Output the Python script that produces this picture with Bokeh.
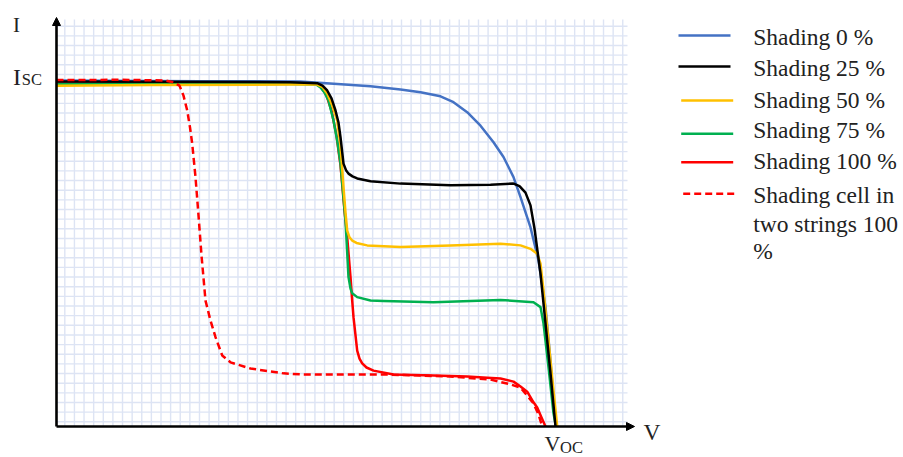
import numpy as np
from bokeh.plotting import figure
from bokeh.models import Range1d, Arrow, NormalHead, Label
from bokeh.core.properties import value
from bokeh.embed import file_html
from bokeh.resources import INLINE

# ---------------- data (V in volts, V_OC = 50; I in amps, I_SC = 10) ----------------
labels = ["Shading 0 %", "Shading 25 %", "Shading 50 %", "Shading 75 %",
          "Shading 100 %", "Shading cell in two strings 100 %"]
colors = ["#4472C4", "#000000", "#FFC000", "#00B050", "#FF0000", "#FF0000"]

v_0 = [0, 14.4, 24.4, 31.4, 34.4, 36.4, 38.4, 39.7, 41.07, 42.4, 43.7, 44.7, 45.7,
       46.4, 47.4, 48.2, 48.9, 49.4, 49.7, 50.0]
i_0 = [10.03, 10.01, 10.0, 9.86, 9.77, 9.69, 9.57, 9.40, 9.11, 8.72, 8.24, 7.81, 7.23,
       6.65, 5.77, 4.81, 3.46, 1.91, 0.75, 0.0]

v_25 = [0, 23.4, 26.07, 26.6, 27.07, 27.5, 27.9, 28.2, 28.4, 28.7, 28.95, 29.2, 29.6,
        30.07, 31.4, 34.4, 39.4, 43.4, 45.7, 46.3, 46.9, 47.4, 47.8, 48.4, 48.9, 49.4, 49.9]
i_25 = [10.0, 9.98, 9.95, 9.88, 9.74, 9.51, 9.16, 8.81, 8.39, 7.62, 7.43, 7.33, 7.25,
        7.19, 7.11, 7.04, 6.99, 7.01, 7.04, 6.97, 6.78, 6.41, 5.74, 4.43, 2.99, 1.54, 0.0]

v_50 = [0, 9.4, 23.4, 26.07, 26.6, 27.07, 27.6, 28.07, 28.4, 28.7, 28.9, 29.07, 29.3,
        29.57, 30.0, 31.07, 34.4, 39.4, 44.4, 46.4, 47.4, 48.07, 48.4, 48.7, 49.2, 49.7, 50.07]
i_50 = [9.88, 9.90, 9.91, 9.91, 9.84, 9.65, 9.30, 8.87, 8.14, 6.94, 6.20, 5.68, 5.48,
        5.39, 5.32, 5.25, 5.20, 5.25, 5.30, 5.25, 5.15, 5.01, 4.72, 3.94, 2.49, 1.04, 0.0]

v_75 = [0, 23.4, 26.0, 26.4, 26.8, 27.2, 27.7, 28.1, 28.4, 28.9, 29.2, 29.4, 29.57,
        30.07, 31.4, 32.7, 37.7, 44.4, 47.7, 48.4, 48.7, 49.2, 49.7, 49.95]
i_75 = [9.93, 9.93, 9.91, 9.83, 9.68, 9.45, 8.87, 8.23, 7.62, 5.97, 4.33, 4.0, 3.86,
        3.75, 3.65, 3.64, 3.60, 3.67, 3.60, 3.46, 2.99, 1.72, 0.38, 0.0]

v_100 = [0, 23.4, 26.07, 26.5, 27.0, 27.5, 28.0, 28.4, 28.8, 29.07, 29.4, 29.57, 29.7,
         30.07, 30.3, 30.57, 31.0, 31.7, 33.7, 37.7, 41.07, 43.07, 44.4, 45.7, 46.4,
         47.07, 47.7, 48.07, 48.5, 48.9]
i_100 = [9.94, 9.94, 9.93, 9.83, 9.59, 9.16, 8.43, 7.57, 6.26, 5.49, 4.33, 3.65, 3.17,
         2.20, 1.97, 1.83, 1.71, 1.62, 1.51, 1.48, 1.45, 1.41, 1.39, 1.30, 1.16,
         1.01, 0.70, 0.55, 0.26, 0.0]

v_two = [0, 6.4, 10.9, 11.7, 12.3, 12.7, 13.07, 13.35, 13.57, 13.9, 14.2, 14.5, 14.9,
         15.4, 15.9, 16.57, 17.4, 19.4, 22.7, 24.4, 32.7, 39.4, 43.4, 45.4, 46.4,
         47.7, 48.2, 48.57]
i_two = [10.04, 10.05, 10.03, 9.98, 9.88, 9.59, 9.16, 8.67, 8.20, 7.23, 6.12, 4.96, 3.65,
         3.07, 2.59, 2.06, 1.86, 1.68, 1.54, 1.51, 1.51, 1.45, 1.36, 1.22, 1.13,
         0.67, 0.35, 0.0]

series_v = [v_0, v_25, v_50, v_75, v_100, v_two]
series_i = [i_0, i_25, i_50, i_75, i_100, i_two]
dashes = ["solid", "solid", "solid", "solid", "solid", "7 4"]

# ---------------- figure ----------------
W, H = 900, 457
p = figure(width=W, height=H, output_backend="svg", toolbar_location=None,
           x_range=Range1d(-5.6, 84.4), y_range=Range1d(-0.8986, 12.348),
           min_border=0, outline_line_color=None)
p.axis.visible = False
p.grid.visible = False
p.background_fill_color = "white"
p.border_fill_color = "white"

SERIF = value("Liberation Serif")

# graph-paper background
gx = 0.83 + 0.962 * np.arange(59)
gy = 0.136 + 0.2797 * np.arange(42)
p.segment(x0=gx, y0=np.zeros_like(gx), x1=gx, y1=np.full_like(gx, 11.8),
          line_color="#dde4f4", line_width=1.4)
p.segment(x0=np.zeros_like(gy), y0=gy, x1=np.full_like(gy, 57.1), y1=gy,
          line_color="#dde4f4", line_width=1.4)

# axes with arrows
p.add_layout(Arrow(end=NormalHead(size=8, fill_color="black", line_color="black", line_width=1),
                   x_start=0, y_start=0, x_end=0, y_end=11.855,
                   line_color="black", line_width=2.6))
p.add_layout(Arrow(end=NormalHead(size=8, fill_color="black", line_color="black", line_width=1),
                   x_start=0, y_start=0, x_end=57.8, y_end=0,
                   line_color="black", line_width=2.6))

# curves (draw order similar to reference)
order = [0, 4, 3, 2, 1, 5]
for k in order:
    p.line(series_v[k], series_i[k], line_color=colors[k], line_width=2.5,
           line_dash=dashes[k], line_join="round")

# axis texts
def lab(x, y, t, size):
    p.add_layout(Label(x=x, y=y, text=t, text_font="Liberation Serif",
                       text_font_size=size, text_baseline="alphabetic",
                       text_align="left", text_color="#222222"))

lab(-4.35, 11.65, "I", "21px")
lab(-4.35, 10.14, "I", "24px")
lab(-3.48, 10.05, "SC", "16.5px")
lab(58.7, -0.165, "V", "23.5px")
lab(48.8, -0.507, "V", "22px")
lab(50.35, -0.609, "OC", "16.5px")

# legend (drawn manually to reproduce the wrapped last entry)
sw_y = [11.333, 10.435, 9.449, 8.484, 7.661, 6.745]
sw_x0 = [62.2, 62.2, 62.47, 62.47, 62.47, 62.67]
sw_x1 = [67.4, 67.4, 67.67, 67.67, 67.67, 68.0]
for k in range(6):
    p.line([sw_x0[k], sw_x1[k]], [sw_y[k], sw_y[k]], line_color=colors[k],
           line_width=2.6, line_dash=dashes[k])
leg_lines = labels[:5] + ["Shading cell in", "two strings 100", "%"]
leg_y = [11.284, 10.386, 9.470, 8.580, 7.710, 6.696, 5.875, 5.101]
p.text(x=[69.67] * len(leg_lines), y=leg_y, text=leg_lines, text_font=SERIF,
       text_font_size=value("23.5px"), text_baseline="middle", text_align="left",
       text_color="#222222")

open("out.html", "w").write(file_html(p, INLINE))
